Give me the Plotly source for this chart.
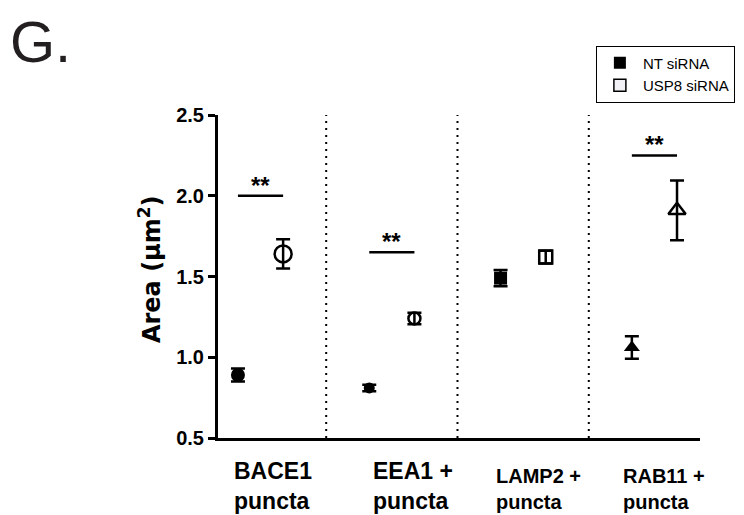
import plotly.graph_objects as go

# ---- data ----
cat_line1 = ["BACE1", "EEA1 +", "LAMP2 +", "RAB11 +"]
cat_line2 = ["puncta", "puncta", "puncta", "puncta"]
nt_mean = [0.89, 0.81, 1.49, 1.06]
nt_err = [0.04, 0.02, 0.05, 0.07]
usp8_mean = [1.64, 1.24, 1.62, 1.91]
usp8_err = [0.09, 0.035, 0.04, 0.185]
sig_group = [0, 1, 3]
sig_level = [2.0, 1.65, 2.25]
sig_text = ["**", "**", "**"]
y_ticks = [0.5, 1.0, 1.5, 2.0, 2.5]

# ---- style ----
offset = 0.172
nt_symbols = ["circle", "circle", "square", "triangle-up"]
nt_sizes = [14, 11, 13, 14]
usp_symbols = ["circle-open", "circle-open", "square-open", "triangle-up-open"]
usp_sizes = [17, 12, 13, 15]
label_shift = [-0.21, -0.151, -0.214, -0.247]
label_size = [23, 23, 20, 20]
label_y = [-0.15, -0.15, -0.159, -0.159]
FONT = "Liberation Sans, Arial, sans-serif"

groups = list(range(len(cat_line1)))
fig = go.Figure()

fig.add_trace(go.Scatter(
    x=[g - offset for g in groups], y=nt_mean, mode="markers",
    marker=dict(symbol=nt_symbols, size=nt_sizes, color="black", opacity=1,
                line=dict(width=0, color="black")),
    error_y=dict(type="data", array=nt_err, visible=True, color="black", thickness=2.5, width=7),
    showlegend=False, name="NT siRNA"))
fig.add_trace(go.Scatter(
    x=[g + offset for g in groups], y=usp8_mean, mode="markers",
    marker=dict(symbol=usp_symbols, size=usp_sizes, color="black", opacity=1,
                line=dict(width=2.5, color="black")),
    error_y=dict(type="data", array=usp8_err, visible=True, color="black", thickness=2.5, width=7),
    showlegend=False, name="USP8 siRNA"))

# legend entries
fig.add_trace(go.Scatter(x=[None], y=[None], mode="markers", name="NT siRNA",
                         marker=dict(symbol="square", size=12, color="black")))
fig.add_trace(go.Scatter(x=[None], y=[None], mode="markers", name="USP8 siRNA",
                         marker=dict(symbol="square", size=12, color="#f2f2f6",
                                     line=dict(width=1.5, color="black"))))

shapes = []
for i in range(len(cat_line1) - 1):
    shapes.append(dict(type="line", xref="x", yref="y", x0=i + 0.5, x1=i + 0.5,
                       y0=y_ticks[0], y1=y_ticks[-1], line=dict(color="black", width=2, dash="2px,5px")))
annotations = []
for g, lvl, t in zip(sig_group, sig_level, sig_text):
    shapes.append(dict(type="line", xref="x", yref="y", x0=g - offset, x1=g + offset,
                       y0=lvl, y1=lvl, line=dict(color="black", width=2.5)))
    annotations.append(dict(x=g, y=lvl, xref="x", yref="y", text="<b>" + t + "</b>",
                            showarrow=False, yanchor="bottom", yshift=-5,
                            font=dict(size=24, color="black", family=FONT)))

for g, l1, l2 in zip(groups, cat_line1, cat_line2):
    annotations.append(dict(x=g + label_shift[g], y=label_y[g], xref="x", yref="paper",
                            text="<b>" + l1 + "<br>" + l2 + "</b>", xanchor="left", yanchor="middle",
                            align="left", showarrow=False, borderpad=0,
                            font=dict(size=label_size[g], color="black", family=FONT)))

annotations.append(dict(x=-0.141, y=0.523, xref="paper", yref="paper", text="<b>Area (µm<sup>2</sup>)</b>",
                        textangle=-90, xanchor="center", yanchor="middle", showarrow=False,
                        font=dict(size=24, color="black", family="DejaVu Sans, sans-serif")))
annotations.append(dict(x=-0.434, y=1.331, xref="paper", yref="paper", text="G.", xanchor="left",
                        yanchor="top", showarrow=False, borderpad=0,
                        font=dict(size=58, color="#231f20", family=FONT)))

fig.update_layout(
    width=736, height=507,
    margin=dict(l=210, r=44, t=107, b=77, autoexpand=False),
    paper_bgcolor="white", plot_bgcolor="white",
    font=dict(family=FONT, color="black"),
    xaxis=dict(range=[-0.324, 3.347], showgrid=False, zeroline=False, showticklabels=False,
               showline=True, linecolor="black", linewidth=3, ticks=""),
    yaxis=dict(range=[0.5, 2.5], tickvals=y_ticks, ticktext=["<b>%.1f</b>" % v for v in y_ticks],
               showgrid=False, zeroline=False, showline=True, linecolor="black", linewidth=3,
               ticks="outside", ticklen=7, tickwidth=3, tickcolor="black",
               tickfont=dict(size=20, color="black", family=FONT)),
    legend=dict(x=0.784, y=1.215, xanchor="left", yanchor="top", bordercolor="black", borderwidth=1,
                font=dict(size=15, color="black", family=FONT), bgcolor="white",
                tracegroupgap=0, itemwidth=36),
    shapes=shapes, annotations=annotations,
)

fig.write_html("out.html")
